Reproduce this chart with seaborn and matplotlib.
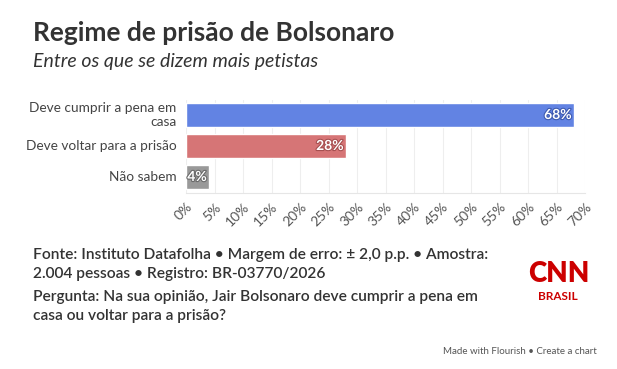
import matplotlib
matplotlib.use("Agg")
import matplotlib.pyplot as plt
import matplotlib.patheffects as pe
import seaborn as sns
import pandas as pd

# dados
categorias = ["Deve cumprir a pena em\ncasa", "Deve voltar para a prisão", "Não sabem"]
valores = [68, 28, 4]
cores = ["#6283e3", "#d67576", "#999999"]
ticks_x = list(range(0, 75, 5))

titulo = "Regime de prisão de Bolsonaro"
subtitulo = "Entre os que se dizem mais petistas"
rodape = ["Fonte: Instituto Datafolha • Margem de erro: ± 2,0 p.p. • Amostra:",
          "2.004 pessoas • Registro: BR-03770/2026",
          "Pergunta: Na sua opinião, Jair Bolsonaro deve cumprir a pena em",
          "casa ou voltar para a prisão?"]

df = pd.DataFrame({"cat": categorias, "val": valores})

sns.set_theme(style="white")
plt.rcParams["font.family"] = ["Lato", "DejaVu Sans"]

fig = plt.figure(figsize=(6.17, 3.69), dpi=100)
fig.patch.set_facecolor("white")
ax = fig.add_axes([186 / 617, 1 - 192.5 / 369, 399 / 617, 93 / 369])

sns.barplot(data=df, y="cat", x="val", hue="cat", palette=cores, orient="h",
            width=0.8, legend=False, ax=ax, saturation=1)

ax.set_xlim(0, 70)
ax.set_ylim(2.5, -0.5)
ax.set_xticks(ticks_x)
ax.set_xticklabels([f"{t}%" for t in ticks_x], rotation=45, ha="right",
                   rotation_mode="anchor", fontsize=10, color="#555555")
ax.set_yticks(range(len(categorias)))
ax.set_yticklabels([])
ax.tick_params(axis="x", length=4, color="#e6e6e6", pad=2)
ax.tick_params(axis="y", length=4, color="#e6e6e6", pad=3)
ax.set_xlabel("")
ax.set_ylabel("")
ax.xaxis.grid(True, color="#eeeeee", linewidth=0.8)
ax.set_axisbelow(True)
for s in ["top", "right", "left"]:
    ax.spines[s].set_visible(False)
ax.spines["bottom"].set_color("#e6e6e6")
ax.spines["bottom"].set_linewidth(0.8)

# rótulos das categorias (alinhados à direita, também nas linhas quebradas)
for i, c in enumerate(categorias):
    ax.annotate(c, xy=(0, i), xycoords=("axes fraction", "data"),
                xytext=(-7, 0), textcoords="offset points", ha="right",
                va="center", multialignment="right", linespacing=1.15,
                fontsize=9.8, color="#444444")

contornos = ["#3f5bb0", "#a64f50", "#6b6b6b"]
for i, v in enumerate(valores):
    ax.text(v - 0.35, i, f"{v}%", ha="right", va="center", fontsize=10,
            fontweight="bold", color="white",
            path_effects=[pe.withStroke(linewidth=1.6, foreground=contornos[i])])

fig.text(33 / 617, 1 - 33 / 369, titulo, fontsize=19, fontweight="bold",
         color="#333333", va="center")
fig.text(33 / 617, 1 - 62 / 369, subtitulo, fontsize=14, style="italic",
         color="#333333", va="center")

ys = [255, 274, 297, 316]
for y, linha in zip(ys, rodape):
    fig.text(33 / 617, 1 - y / 369, linha, fontsize=11.2, fontweight="semibold",
             color="#333333", va="center")

fig.text(559 / 617, 1 - 274 / 369, "CNN", fontsize=20, fontweight="heavy",
         color="#cc0000", ha="center", va="center")
fig.text(558 / 617, 1 - 297 / 369, "BRASIL", fontsize=8.5, fontweight="bold",
         color="#cc0000", ha="center", va="center")

fig.text(597 / 617, 1 - 352 / 369, "Made with Flourish • Create a chart",
         fontsize=7, color="#555555", ha="right", va="center")

fig.savefig("out.png", dpi=100, facecolor="white")
